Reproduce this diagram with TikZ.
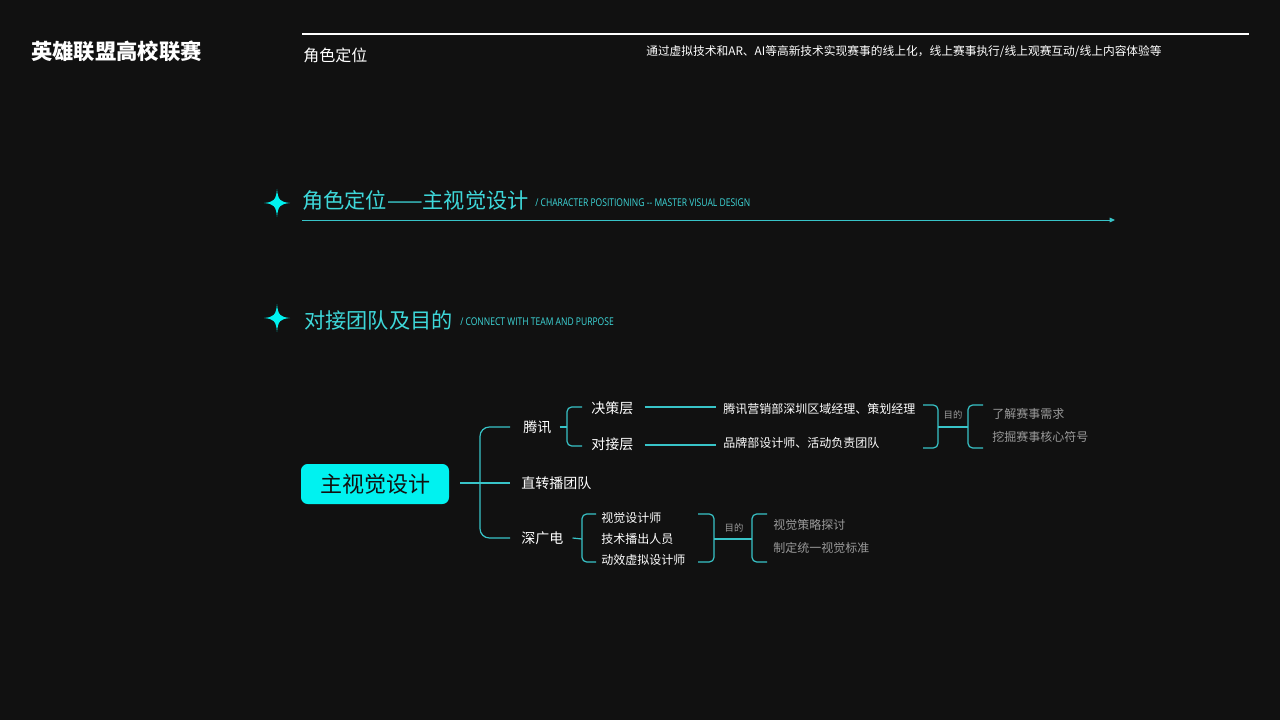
\documentclass[tikz,border=0pt]{standalone}
\usepackage{fontspec}
\setmainfont{Noto Sans CJK SC}
\newfontfamily\enfont[FakeStretch=0.8]{Open Sans}
\usetikzlibrary{arrows.meta,calc}
\definecolor{bg}{HTML}{111111}
\definecolor{cy}{HTML}{00F2F0}
\definecolor{ln}{HTML}{38C4C8}
\definecolor{hd}{HTML}{3ED8DA}
\definecolor{gr}{HTML}{9A9A9A}
\tikzset{
  wt/.style={inner sep=0pt, anchor=west, text=white},
  lvA/.style={wt, font=\fontsize{10.5}{12}\selectfont},
  lvB/.style={wt, font=\fontsize{9}{11}\selectfont},
  grey/.style={wt, text=gr, font=\fontsize{9}{11}\selectfont},
  purp/.style={inner sep=0pt, text=gr, font=\fontsize{7}{8}\selectfont},
  heading/.style={wt, text=hd, font=\fontsize{15.9}{17}\selectfont},
  headen/.style={wt, text=hd, font=\enfont\fontsize{8}{9}\selectfont},
  conn/.style={draw=ln, line width=0.9pt},
  brk/.style={conn, rounded corners=3.5pt},
  bigbrk/.style={conn, rounded corners=7pt},
  sparkle/.pic={
    \fill[cy] (0,-14) .. controls (1,-3) and (3,-1) .. (13,0)
      .. controls (3,1) and (1,3) .. (0,14)
      .. controls (-1,3) and (-3,1) .. (-13,0)
      .. controls (-3,-1) and (-1,-3) .. (0,-14) -- cycle;
    \fill[cy] (0,0) circle (2.8);
  }
}
\begin{document}
\begin{tikzpicture}[x=0.75pt,y=-0.75pt]
\fill[bg] (0,0) rectangle (1280,720);
\useasboundingbox (0,0) rectangle (1280,720);

% header
\node[wt, font=\bfseries\fontsize{16}{17}\selectfont] (title) at (31,51) {英雄联盟高校联赛};
\coordinate (tl1) at (302,34);
\coordinate (tl2) at (1249,34);
\draw[white, line width=1.1pt] (tl1) -- (tl2);
\node[wt, font=\fontsize{12}{14}\selectfont] (sec) at (303,55) {角色定位};
\node[wt, font=\fontsize{8.8}{10}\selectfont] (desc) at (646,52) {通过虚拟技术和AR、AI等高新技术实现赛事的线上化，线上赛事执行/线上观赛互动/线上内容体验等};

% heading 1
\pic at (277,203) {sparkle};
\node[heading] (h1) at (302,200) {角色定位——主视觉设计};
\node[headen] (h1en) at (535,203) {/ CHARACTER POSITIONING -- MASTER VISUAL DESIGN};
\coordinate (a1) at (302,220);
\coordinate (a2) at (1115,220);
\draw[ln, line width=0.7pt, -{Triangle[length=4pt,width=3.5pt]}] (a1) -- (a2);

% heading 2
\pic at (277,318) {sparkle};
\node[heading] (h2) at (304,320) {对接团队及目的};
\node[headen] (h2en) at (460,322) {/ CONNECT WITH TEAM AND PURPOSE};

% main node
\node[fill=cy, rounded corners=5pt, minimum width=111pt, minimum height=30pt, inner sep=0pt,
      text=bg, font=\fontsize{16.5}{18}\selectfont] (main) at (375,484) {主视觉设计};

% level 1
\node[lvA] (tx) at (523,427) {腾讯};
\node[lvA] (zb) at (521,483) {直转播团队};
\node[lvA] (sgd) at (521,538) {深广电};
\coordinate (j1) at (480,483);
\draw[conn] ($(main.east |- zb.west)+(11,0)$) -- ($(zb.west)+(-11,0)$);
\draw[bigbrk] ($(tx.west)+(-13,0)$) -| (j1) |- ($(sgd.west)+(-11,0)$);

% Tencent branch
\node[lvA] (jc) at (591,408) {决策层};
\node[lvA] (dj) at (591,444) {对接层};
\coordinate (j2) at (567,427);
\draw[conn] ($(tx.east)+(8,0)$) -- (j2);
\draw[brk] ($(jc.west)+(-9,-1)$) -| (j2) |- ($(dj.west)+(-9,2)$);
\node[lvB] (d1) at (723,409) {腾讯营销部深圳区域经理、策划经理};
\node[lvB] (d2) at (723,443) {品牌部设计师、活动负责团队};
\draw[conn] ($(jc.east)+(11,-1)$) -- ($(d1.west)+(-7,-2)$);
\draw[conn] ($(dj.east)+(11,1)$) -- ($(d2.west)+(-7,2)$);
\coordinate (c1t) at (923,405);
\coordinate (c1b) at (923,448);
\coordinate (j3) at (938,427);
\coordinate (j4) at (968,427);
\coordinate (o1t) at (983,405);
\coordinate (o1b) at (983,448);
\draw[brk] (c1t) -| (j3) |- (c1b);
\draw[conn] (j3) -- (j4);
\draw[brk] (o1t) -| (j4) |- (o1b);
\node[purp] (md1) at (953,415) {目的};
\node[grey] (g1) at (992,414) {了解赛事需求};
\node[grey] (g2) at (992,437) {挖掘赛事核心符号};

% SZ broadcast branch
\node[lvB] (s1) at (601,518) {视觉设计师};
\node[lvB] (s2) at (601,539) {技术播出人员};
\node[lvB] (s3) at (601,560) {动效虚拟设计师};
\coordinate (j5) at (582,539);
\draw[conn] ($(sgd.east)+(9,0)$) -- (j5);
\coordinate (e1t) at (596,514);
\coordinate (e1b) at (596,562);
\draw[brk] (e1t) -| (j5) |- (e1b);
\coordinate (c2t) at (698,514);
\coordinate (c2b) at (698,562);
\coordinate (j6) at (714,539);
\coordinate (j7) at (752,539);
\coordinate (o2t) at (767,514);
\coordinate (o2b) at (767,562);
\draw[brk] (c2t) -| (j6) |- (c2b);
\draw[conn] (j6) -- (j7);
\draw[brk] (o2t) -| (j7) |- (o2b);
\node[purp] (md2) at (734,528) {目的};
\node[grey] (g3) at (773,525) {视觉策略探讨};
\node[grey] (g4) at (773,548) {制定统一视觉标准};
\end{tikzpicture}
\end{document}
